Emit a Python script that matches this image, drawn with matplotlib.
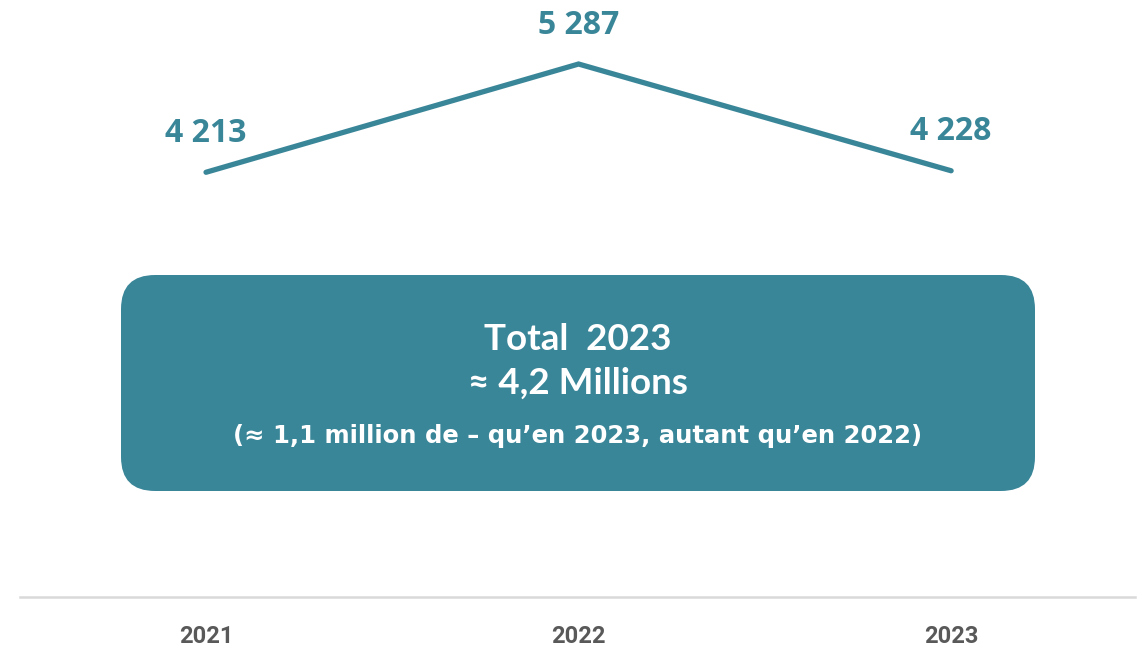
import matplotlib
matplotlib.use("Agg")
import matplotlib.pyplot as plt
from matplotlib.patches import FancyBboxPatch
from matplotlib.transforms import IdentityTransform

years = ["2021", "2022", "2023"]
values = [4213, 5287, 4228]
value_labels = ["4 213", "5 287", "4 228"]

box_lines = ["Total  2023", "\u2248 4,2 Millions",
             "(\u2248 1,1 million de \u2013 qu\u2019en 2023, autant qu\u2019en 2022)"]

teal = "#3a8699"
grey_txt = "#595959"

fig = plt.figure(figsize=(11.43, 6.51), dpi=100)
ax = fig.add_axes([0, 0, 1, 1])
ax.set_xlim(-0.553, 2.515)
ax.set_ylim(-536, 5922)
ax.axis("off")

x = list(range(len(years)))
ax.plot(x, values, color=teal, lw=3.8, solid_capstyle="round", solid_joinstyle="miter")

for xi, v, lab in zip(x, values, value_labels):
    ax.annotate(lab, (xi, v), xytext=(0, 39), textcoords="offset pixels",
                ha="center", va="center", fontsize=23, fontweight="bold",
                color=teal, family=["Open Sans", "DejaVu Sans"])

# baseline
ax.axhline(0, xmin=0.0175, xmax=0.993, color="#d9d9d9", lw=1.8)
for xi, yr in zip(x, years):
    ax.annotate(yr, (xi, 0), xytext=(0, -40), textcoords="offset pixels",
                ha="center", va="center", fontsize=17, fontweight="bold",
                color=grey_txt, family=["Roboto", "DejaVu Sans"])

# summary box (pixel coordinates)
r = 34
bx0, by0, bx1, by1 = 121, 160, 1035, 376
box = FancyBboxPatch((bx0 + r, by0 + r), bx1 - bx0 - 2 * r, by1 - by0 - 2 * r,
                     boxstyle=f"round,pad={r},rounding_size={r}",
                     transform=IdentityTransform(), facecolor=teal,
                     edgecolor="none", zorder=3)
fig.patches.append(box)

cx = (bx0 + bx1) / 2
specs = [(651 - 340, 26.5, ["Lato", "DejaVu Sans"]),
         (651 - 383, 26.5, ["Lato", "DejaVu Sans"]),
         (651 - 436, 17.5, ["DejaVu Sans"])]
for txt, (yc, fs, fam) in zip(box_lines, specs):
    fig.text(cx, yc, txt, transform=IdentityTransform(), ha="center", va="center",
             fontsize=fs, fontweight="bold", color="white", family=fam, zorder=4)

fig.savefig("out.png", dpi=100)
